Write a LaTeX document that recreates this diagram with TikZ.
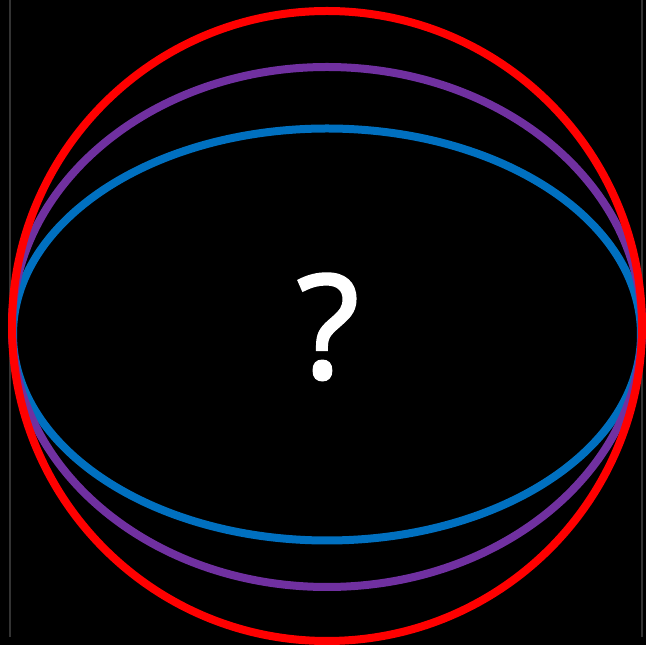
\documentclass[tikz,border=0pt]{standalone}
\usepackage{fontspec}
\setmainfont{Open Sans}
\newfontfamily\qfont[FakeBold=2]{Open Sans}
\definecolor{ringred}{HTML}{FF0000}
\definecolor{ringpurple}{HTML}{7030A0}
\definecolor{ringblue}{HTML}{0070C0}
\definecolor{edgegray}{HTML}{333333}
\begin{document}
\begin{tikzpicture}[x=1pt,y=1pt,
  ring/.style={line width=8pt},
  edge/.style={draw=edgegray,line width=2pt}]
\fill[black] (0,0) rectangle (646,645);
\useasboundingbox (0,0) rectangle (646,645);
\coordinate (l1) at (10,645);
\coordinate (l2) at (10,8);
\coordinate (r1) at (641.5,645);
\coordinate (r2) at (641.5,8);
\draw[edge] (l1) -- (l2);
\draw[edge] (r1) -- (r2);
\draw[ring,ringblue] (327,310.5) ellipse [x radius=314, y radius=206];
\draw[ring,ringpurple] (327,318) ellipse [x radius=315, y radius=260];
\draw[ring,ringred] (327,319) ellipse [x radius=315, y radius=315];
\node[text=white,font=\qfont\fontsize{144}{144}\selectfont,anchor=base,inner sep=0pt] (q) at (328,267) {?};
\end{tikzpicture}
\end{document}
